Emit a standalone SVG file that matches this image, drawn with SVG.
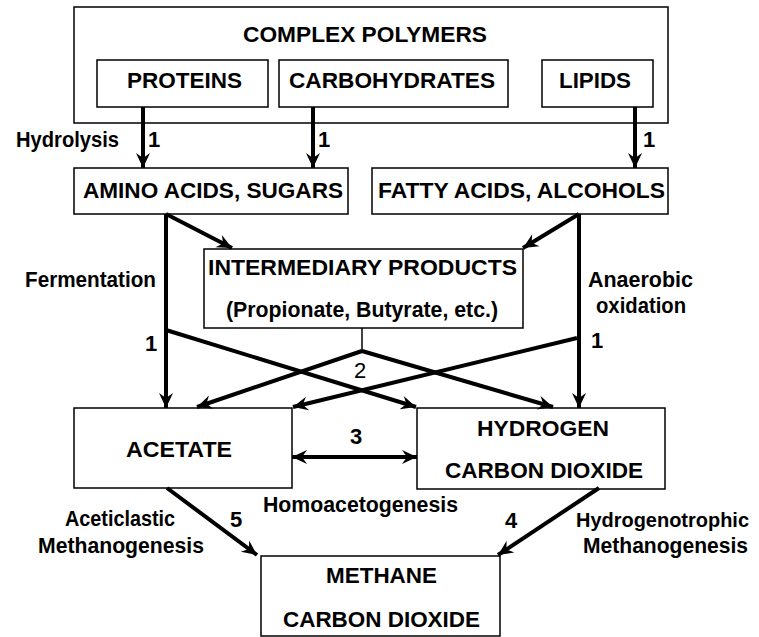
<svg xmlns="http://www.w3.org/2000/svg" width="759" height="637" viewBox="0 0 759 637">
<defs>
<marker id="ah" markerUnits="userSpaceOnUse" markerWidth="16" markerHeight="16" refX="15" refY="7" orient="auto-start-reverse" overflow="visible">
<path d="M0,0 L15,7 L0,14 L5,7 z" fill="#000"/>
</marker>
<style>
.box{fill:#fff;stroke:#000;stroke-width:1.5}
.t{font-family:"Liberation Sans",Arial,sans-serif;font-weight:bold;font-size:22px;fill:#000}
.c{text-anchor:middle}
.ar{stroke:#000;stroke-width:4;fill:none;marker-end:url(#ah)}
</style>
</defs>
<rect width="759" height="637" fill="#fff"/>

<g id="complex-polymers">
<rect class="box" x="74" y="7" width="594" height="116"/>
<text class="t" x="243" y="42" textLength="244" lengthAdjust="spacingAndGlyphs">COMPLEX POLYMERS</text>
</g>
<g id="proteins">
<rect class="box" x="97" y="60" width="171" height="47"/>
<text class="t" x="127" y="88" textLength="115" lengthAdjust="spacingAndGlyphs">PROTEINS</text>
</g>
<g id="carbohydrates">
<rect class="box" x="279" y="60" width="229" height="47"/>
<text class="t" x="289" y="88" textLength="206" lengthAdjust="spacingAndGlyphs">CARBOHYDRATES</text>
</g>
<g id="lipids">
<rect class="box" x="542" y="60" width="111" height="47"/>
<text class="t" x="559" y="88" textLength="72" lengthAdjust="spacingAndGlyphs">LIPIDS</text>
</g>
<g id="amino-acids">
<rect class="box" x="74" y="168" width="274" height="46"/>
<text class="t" x="83" y="198" textLength="260" lengthAdjust="spacingAndGlyphs">AMINO ACIDS, SUGARS</text>
</g>
<g id="fatty-acids">
<rect class="box" x="372" y="168" width="296" height="46"/>
<text class="t" x="378" y="198" textLength="287" lengthAdjust="spacingAndGlyphs">FATTY ACIDS, ALCOHOLS</text>
</g>
<g id="intermediary">
<rect class="box" x="204" y="249" width="319" height="79"/>
<text class="t" x="208" y="275" textLength="309" lengthAdjust="spacingAndGlyphs">INTERMEDIARY PRODUCTS</text>
<text class="t" x="226" y="317" textLength="272" lengthAdjust="spacingAndGlyphs">(Propionate, Butyrate, etc.)</text>
</g>
<g id="acetate">
<rect class="box" x="74" y="408" width="218" height="80"/>
<text class="t" x="126" y="457" textLength="106" lengthAdjust="spacingAndGlyphs">ACETATE</text>
</g>
<g id="hydrogen">
<rect class="box" x="417" y="408" width="248" height="81"/>
<text class="t" x="477" y="436" textLength="132" lengthAdjust="spacingAndGlyphs">HYDROGEN</text>
<text class="t" x="445" y="478" textLength="198" lengthAdjust="spacingAndGlyphs">CARBON DIOXIDE</text>
</g>
<g id="methane">
<rect class="box" x="261" y="556" width="239" height="80"/>
<text class="t" x="326" y="583" textLength="111" lengthAdjust="spacingAndGlyphs">METHANE</text>
<text class="t" x="283" y="627" textLength="197" lengthAdjust="spacingAndGlyphs">CARBON DIOXIDE</text>
</g>

<g id="connectors">
<line class="ar" x1="143" y1="107" x2="143" y2="168"/>
<line class="ar" x1="313" y1="107" x2="313" y2="168"/>
<line class="ar" x1="635" y1="107" x2="635" y2="168"/>
<line class="ar" x1="166" y1="214" x2="232" y2="248"/>
<line class="ar" x1="579" y1="214" x2="523" y2="248"/>
<line class="ar" x1="166" y1="214" x2="166" y2="408"/>
<line class="ar" x1="579" y1="214" x2="579" y2="408"/>
<line class="ar" x1="166" y1="330" x2="416" y2="407"/>
<line class="ar" x1="577" y1="338" x2="293" y2="407"/>
<line x1="362" y1="328" x2="362" y2="351" stroke="#000" stroke-width="1.5"/>
<line class="ar" x1="362" y1="351" x2="197" y2="407"/>
<line class="ar" x1="362" y1="351" x2="553" y2="407"/>
<line class="ar" x1="292" y1="457" x2="417" y2="457" marker-start="url(#ah)"/>
<line class="ar" x1="167" y1="488" x2="257" y2="555"/>
<line class="ar" x1="599" y1="488" x2="498" y2="555"/>
</g>

<g id="labels">
<text class="t" x="16" y="147" textLength="103" lengthAdjust="spacingAndGlyphs">Hydrolysis</text>
<text class="t" x="148" y="147">1</text>
<text class="t" x="318" y="147">1</text>
<text class="t" x="643" y="147">1</text>
<text class="t" x="25" y="287" textLength="131" lengthAdjust="spacingAndGlyphs">Fermentation</text>
<text class="t" x="588" y="287" textLength="105" lengthAdjust="spacingAndGlyphs">Anaerobic</text>
<text class="t" x="596" y="313" textLength="90" lengthAdjust="spacingAndGlyphs">oxidation</text>
<text class="t" x="145" y="351">1</text>
<text class="t" x="591" y="348">1</text>
<text class="t c" x="360" y="378" style="font-weight:normal">2</text>
<text class="t" x="350" y="444">3</text>
<text class="t" x="263" y="512" textLength="195" lengthAdjust="spacingAndGlyphs">Homoacetogenesis</text>
<text class="t" x="65" y="526" textLength="110" lengthAdjust="spacingAndGlyphs">Aceticlastic</text>
<text class="t" x="38" y="553" textLength="166" lengthAdjust="spacingAndGlyphs">Methanogenesis</text>
<text class="t" x="230" y="527">5</text>
<text class="t" x="505" y="528">4</text>
<text class="t" x="576" y="527" textLength="173" lengthAdjust="spacingAndGlyphs" style="font-size:19.5px">Hydrogenotrophic</text>
<text class="t" x="583" y="553" textLength="165" lengthAdjust="spacingAndGlyphs">Methanogenesis</text>
</g>
</svg>
